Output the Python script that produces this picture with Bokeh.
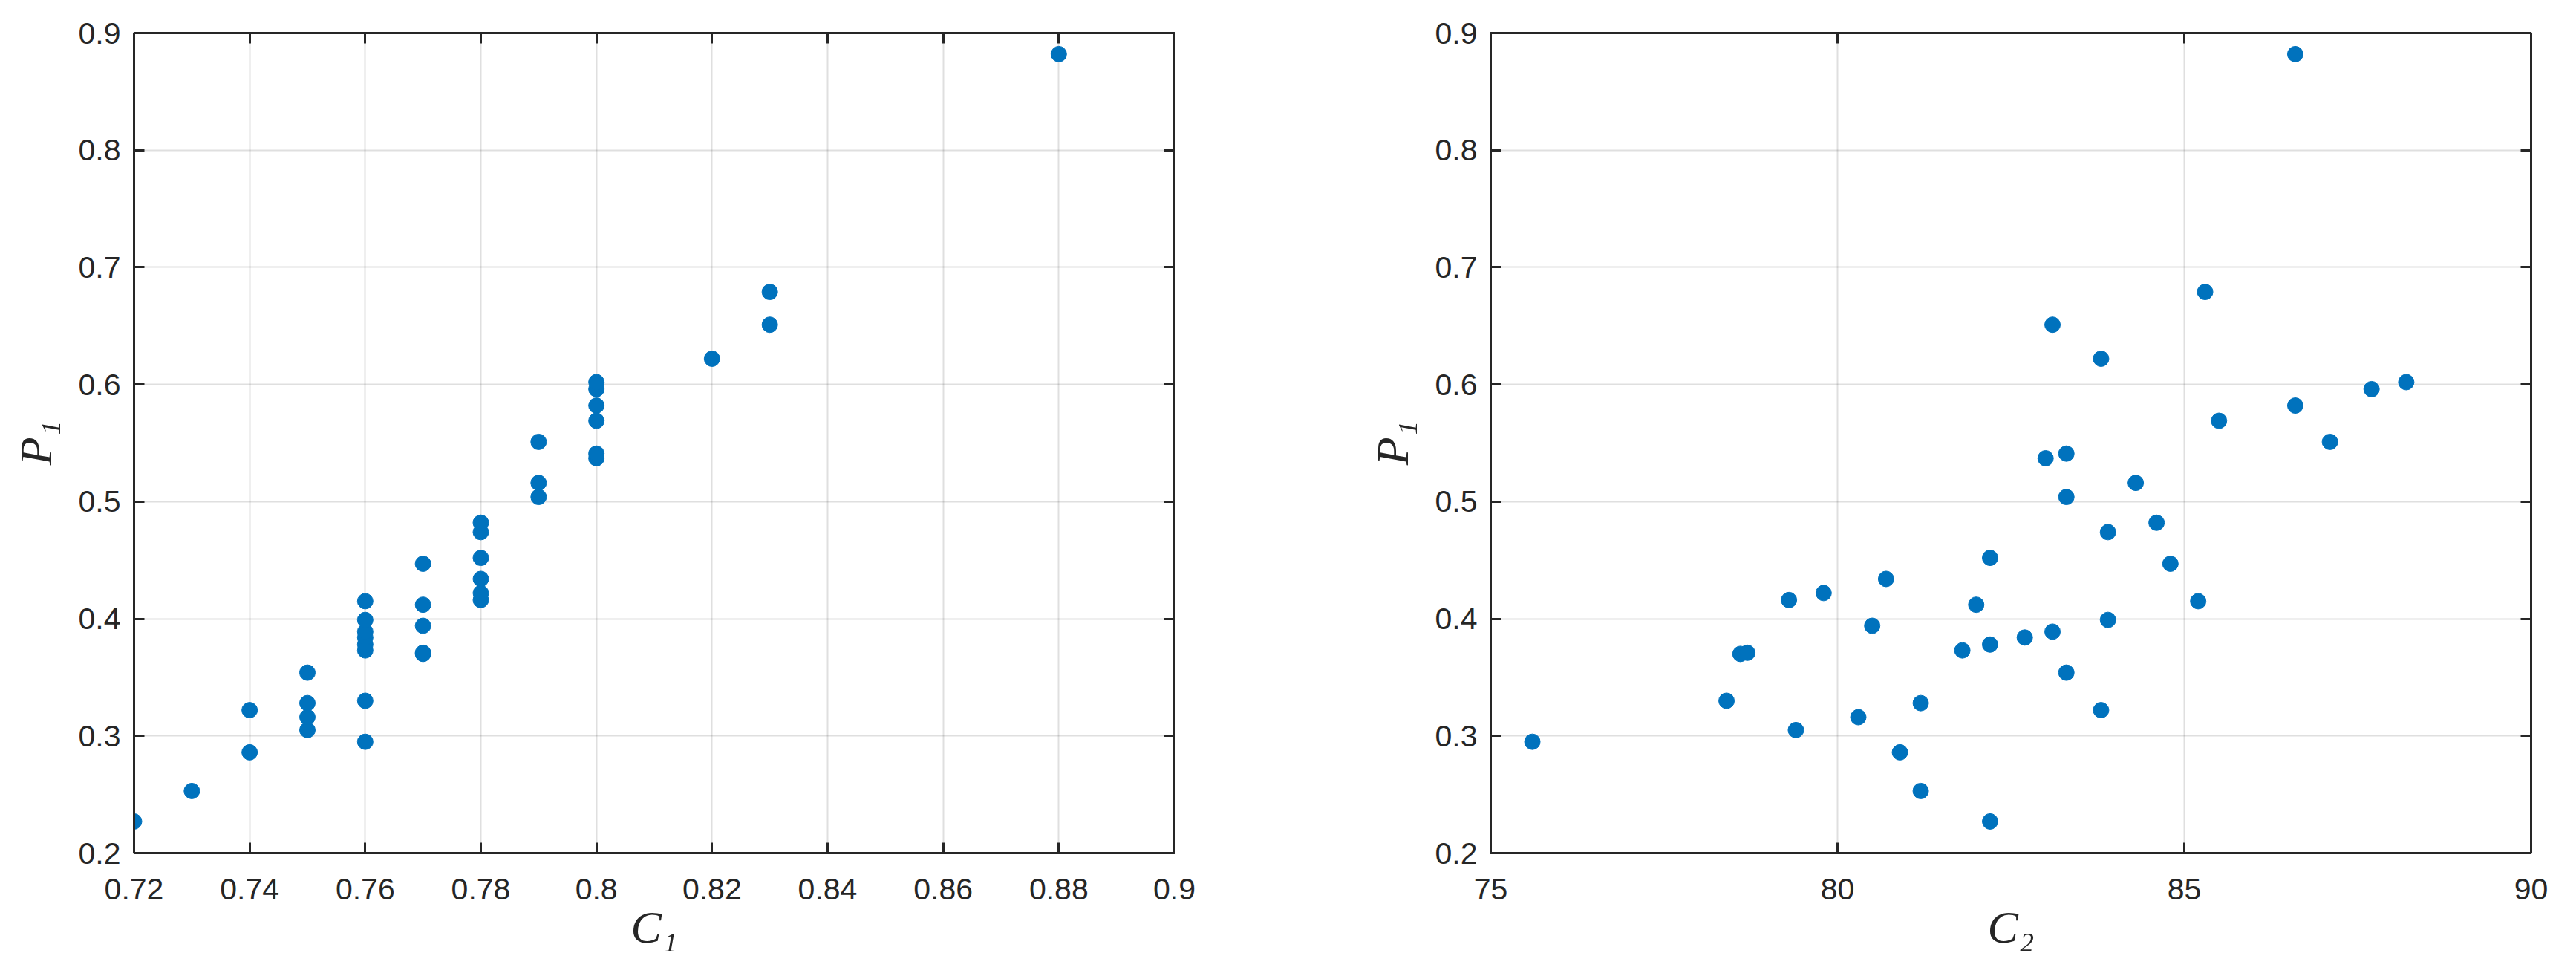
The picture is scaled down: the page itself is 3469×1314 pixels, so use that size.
from bokeh.plotting import figure
from bokeh.models import Range1d, FixedTicker, LinearAxis
from bokeh.layouts import row
from bokeh.embed import file_html
from bokeh.resources import INLINE

# ---- data ----
c2 = [75.6, 78.4, 78.6, 78.7, 79.3, 79.4, 79.8, 80.3, 80.5, 80.7,
      80.9, 81.2, 81.2, 81.8, 82.0, 82.2, 82.2, 82.2, 82.7, 83.0,
      83.1, 83.1, 83.3, 83.3, 83.3, 83.8, 83.8, 83.9, 83.9, 84.3,
      84.6, 84.8, 85.2, 85.3, 85.5, 86.6, 86.6, 87.1, 87.7, 88.2]
p1 = [0.295, 0.330, 0.370, 0.371, 0.416, 0.305, 0.422, 0.316, 0.394, 0.434,
      0.286, 0.328, 0.253, 0.373, 0.412, 0.378, 0.452, 0.227, 0.384, 0.537,
      0.651, 0.389, 0.541, 0.504, 0.354, 0.622, 0.322, 0.474, 0.399, 0.516,
      0.482, 0.447, 0.415, 0.679, 0.569, 0.882, 0.582, 0.551, 0.596, 0.602]
c1 = [0.76, 0.76, 0.77, 0.77, 0.78, 0.75, 0.78, 0.75, 0.77, 0.78,
      0.74, 0.75, 0.73, 0.76, 0.77, 0.76, 0.78, 0.72, 0.76, 0.80,
      0.83, 0.76, 0.80, 0.79, 0.75, 0.82, 0.74, 0.78, 0.76, 0.79,
      0.78, 0.77, 0.76, 0.83, 0.80, 0.88, 0.80, 0.79, 0.80, 0.80]

x1_ticks = [0.72, 0.74, 0.76, 0.78, 0.80, 0.82, 0.84, 0.86, 0.88, 0.90]
x1_labels = ["0.72", "0.74", "0.76", "0.78", "0.8", "0.82", "0.84", "0.86", "0.88", "0.9"]
x2_ticks = [75, 80, 85, 90]
x2_labels = ["75", "80", "85", "90"]
y_ticks = [0.2, 0.3, 0.4, 0.5, 0.6, 0.7, 0.8, 0.9]
y_labels = ["0.2", "0.3", "0.4", "0.5", "0.6", "0.7", "0.8", "0.9"]

DARK = "#262626"
BLUE = "#0072BD"
TICK_FONT = "Liberation Sans"
LABEL_FONT = "Liberation Serif"


def make_plot(x, y, xr, xticks, xlabels, xname, left_border, right_border):
    p = figure(frame_width=1401, frame_height=1104,
               min_border_left=left_border, min_border_right=right_border,
               min_border_top=44, min_border_bottom=150,
               x_range=Range1d(*xr), y_range=Range1d(0.2, 0.9),
               output_backend="svg", toolbar_location=None,
               background_fill_color="white", border_fill_color="white")
    p.outline_line_color = DARK
    p.outline_line_width = 3
    xt = FixedTicker(ticks=xticks, minor_ticks=[])
    yt = FixedTicker(ticks=y_ticks, minor_ticks=[])
    p.xaxis.ticker = xt
    p.yaxis.ticker = yt
    p.xaxis.major_label_overrides = {t: l for t, l in zip(xticks, xlabels)}
    p.yaxis.major_label_overrides = {t: l for t, l in zip(y_ticks, y_labels)}
    for ax in (p.xaxis, p.yaxis):
        ax.axis_line_color = DARK
        ax.axis_line_width = 3
        ax.major_tick_line_color = DARK
        ax.major_tick_line_width = 3
        ax.major_tick_in = 14
        ax.major_tick_out = 0
        ax.minor_tick_line_color = None
        ax.major_label_text_font = TICK_FONT
        ax.major_label_text_font_size = "41px"
        ax.major_label_text_color = DARK
        ax.axis_label_text_font = LABEL_FONT
        ax.axis_label_text_font_style = "italic"
        ax.axis_label_text_font_size = "62px"
        ax.axis_label_text_color = DARK
    p.xaxis.axis_label = xname
    p.yaxis.axis_label = "P\u2081"
    p.xaxis.major_label_standoff = 34
    p.yaxis.major_label_standoff = 18
    p.xaxis.axis_label_standoff = 0
    p.yaxis.axis_label_standoff = 21
    # mirrored ticks on top and right (box on), no labels drawn
    for loc, tk in (("above", xt), ("right", yt)):
        ax = LinearAxis(ticker=tk, major_label_text_font_size="1px",
                        major_label_text_color=None,
                        axis_line_color=DARK, axis_line_width=3,
                        major_tick_line_color=DARK, major_tick_line_width=3,
                        major_tick_in=14, major_tick_out=0,
                        minor_tick_line_color=None, major_label_standoff=0)
        p.add_layout(ax, loc)
    p.grid.grid_line_color = DARK
    p.grid.grid_line_alpha = 0.15
    p.grid.grid_line_width = 2
    p.xgrid.ticker = xt
    p.ygrid.ticker = yt
    p.scatter(x, y, size=21, fill_color=BLUE, line_color=BLUE, line_width=1)
    return p


p_left = make_plot(c1, p1, (0.72, 0.90), x1_ticks, x1_labels, "C\u2081", 180, 213)
p_right = make_plot(c2, p1, (75, 90), x2_ticks, x2_labels, "C\u2082", 213, 52)

layout = row(p_left, p_right, spacing=0)
open("out.html", "w").write(file_html(layout, INLINE))
